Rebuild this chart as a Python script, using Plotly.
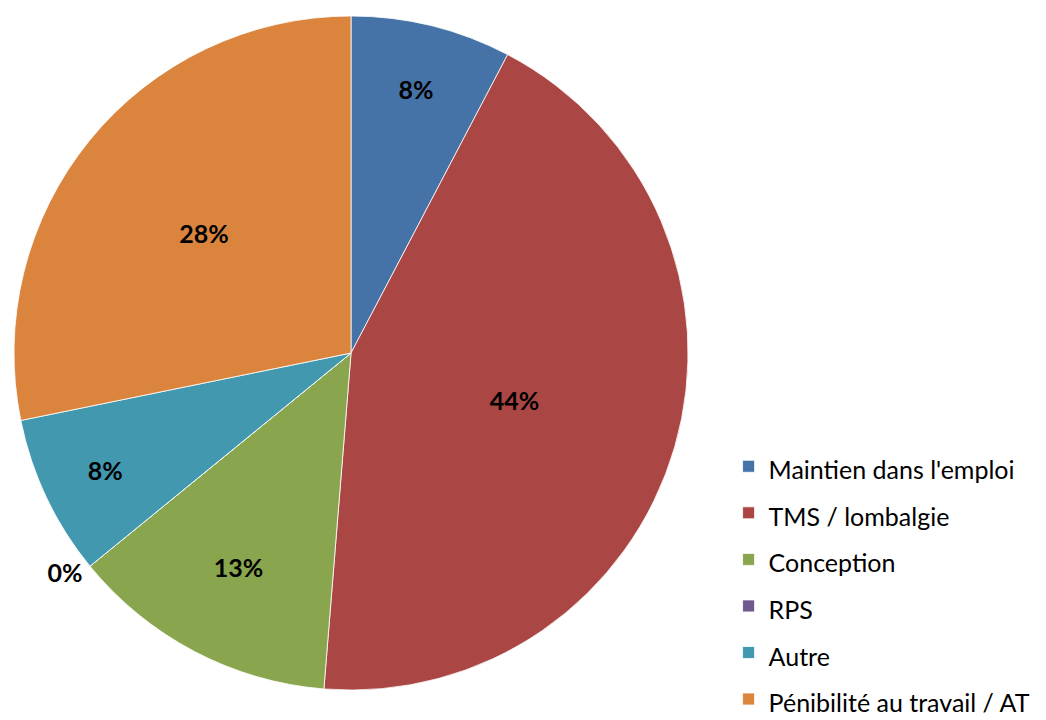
import plotly.graph_objects as go

categories = ["Maintien dans l'emploi", "TMS / lombalgie", "Conception", "RPS", "Autre",
              "Pénibilité au travail / AT"]
counts = [3, 17, 5, 0, 3, 11]
colors = ["#4572A7", "#AA4643", "#89A54E", "#71588F", "#4198AF", "#DB843D"]

W, H = 1046, 720
cx, cy, R = 341, 346, 338

legend_labels = [f'<span style="font-size:25px">{c}</span>' for c in categories]
text_pos = ["outside" if v == 0 else "inside" for v in counts]

fig = go.Figure(go.Pie(
    labels=legend_labels,
    values=counts,
    sort=False,
    direction="clockwise",
    rotation=0,
    marker=dict(colors=colors, line=dict(color="white", width=0.8)),
    texttemplate="%{percent:.0%}",
    textposition=text_pos,
    insidetextorientation="horizontal",
    textfont=dict(family="Lato", size=25, color="black", weight="bold"),
    hoverinfo="label+percent",
    showlegend=True,
    domain=dict(x=[(cx - R) / W, (cx + R) / W], y=[1 - (cy + R) / H, 1 - (cy - R) / H]),
))

fig.update_layout(
    width=W, height=H,
    margin=dict(l=0, r=0, t=0, b=0),
    paper_bgcolor="white",
    plot_bgcolor="white",
    font=dict(family="Lato", color="black"),
    legend=dict(
        x=0.688, xanchor="left",
        y=-0.003, yanchor="bottom",
        font=dict(family="Lato", size=33.5, color="black"),
        bgcolor="rgba(0,0,0,0)",
    ),
)

fig.write_html("out.html")
